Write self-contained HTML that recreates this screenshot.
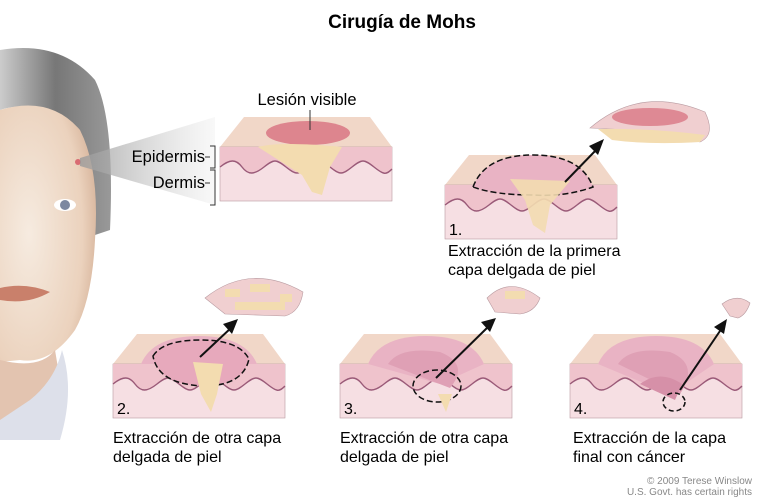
<!DOCTYPE html>
<html><head><meta charset="utf-8"><style>
html,body{margin:0;padding:0;background:#fff;}
svg{display:block;font-family:"Liberation Sans",Arial,sans-serif;}
</style></head><body>
<svg width="770" height="504" viewBox="0 0 770 504" xmlns="http://www.w3.org/2000/svg">
<defs>
<linearGradient id="cone" x1="0" x2="1"><stop offset="0" stop-color="#999"/><stop offset="1" stop-color="#eee" stop-opacity="0.5"/></linearGradient>
<radialGradient id="skin" cx="0.3" cy="0.5" r="0.8"><stop offset="0" stop-color="#f6ebe0"/><stop offset="0.7" stop-color="#ebd2bd"/><stop offset="1" stop-color="#d0aa90"/></radialGradient>
<linearGradient id="hair" x1="0" x2="1"><stop offset="0" stop-color="#ccc"/><stop offset="0.5" stop-color="#777"/><stop offset="1" stop-color="#999"/></linearGradient>
<g id="blk">
<polygon points="0,0 24,-30 150,-30 172,0" fill="#f1d7c8"/>
<rect x="0" y="0" width="172" height="54" fill="#f6dfe3" stroke="#b89aa0" stroke-width="0.6"/>
<path d="M0,20 C10,12 16,12 22,20 S34,28 44,20 S56,12 66,20 S78,28 88,20 S100,12 110,20 S122,28 132,20 S144,12 154,20 S166,28 172,22 L172,0 L0,0 Z" fill="#efc3cc"/>
<path d="M0,20 C10,12 16,12 22,20 S34,28 44,20 S56,12 66,20 S78,28 88,20 S100,12 110,20 S122,28 132,20 S144,12 154,20 S166,28 172,22" fill="none" stroke="#9a5a78" stroke-width="1.4"/>
</g>
</defs>
<text x="402" y="28" font-size="19" font-weight="bold" text-anchor="middle">Cirugía de Mohs</text>

<!-- face -->
<path d="M0,50 Q60,40 95,80 Q115,120 110,230 L95,235 Q90,170 60,120 Q30,100 0,110 Z" fill="url(#hair)"/>
<path d="M0,110 Q50,95 80,130 Q100,170 95,240 Q92,300 75,330 Q50,365 20,360 L0,362 Z" fill="url(#skin)"/>
<path d="M0,360 Q40,370 55,350 L60,380 Q40,420 0,430 Z" fill="#e3c4b0"/>
<path d="M30,400 Q55,380 62,350 Q75,390 60,440 L0,440 L0,420 Z" fill="#dde0ea"/>
<ellipse cx="65" cy="205" rx="11" ry="6" fill="#fff"/><circle cx="65" cy="205" r="5" fill="#7c88a0"/>
<path d="M0,288 Q25,282 50,292 Q28,305 0,300 Z" fill="#c9806b"/>
<circle cx="78" cy="162" r="3" fill="#d96b72"/>
<polygon points="80,158 215,117 215,205 80,166" fill="url(#cone)" opacity="0.8"/>

<!-- main block -->
<g transform="translate(220,147)">
<use href="#blk"/>
<ellipse cx="88" cy="-14" rx="42" ry="12" fill="#d97784" opacity="0.85"/>
<path d="M38,0 Q60,-6 122,0 L110,20 L102,48 L92,45 L82,28 Z" fill="#f3dcb0"/>
</g>
<text x="307" y="105" font-size="16.5" text-anchor="middle">Lesión visible</text>
<line x1="310" y1="110" x2="310" y2="130" stroke="#333"/>
<text x="205" y="162" font-size="16.5" text-anchor="end">Epidermis</text>
<text x="205" y="188" font-size="16.5" text-anchor="end">Dermis</text>
<path d="M205,157 h5 M210,146 h5 v22 h-5 M205,183 h5 M210,170 h5 v35 h-5" stroke="#333" fill="none"/>

<!-- block 1 -->
<g transform="translate(445,185)">
<use href="#blk"/>
<path d="M28,2 Q40,-30 88,-30 Q136,-30 148,2 Q120,12 88,10 Q50,10 28,2 Z" fill="#e9b3c4"/>
<path d="M28,2 Q40,-30 88,-30 Q136,-30 148,2 Q120,12 88,10 Q50,10 28,2 Z" fill="none" stroke="#111" stroke-dasharray="6,3" stroke-width="1.5"/>
<path d="M65,-6 L125,-4 L105,20 L100,48 L88,40 L80,15 Z" fill="#f3dcb0" opacity="0.9"/>
<text x="4" y="50" font-size="16">1.</text>
</g>
<line x1="565" y1="182" x2="598" y2="148" stroke="#111" stroke-width="2"/><polygon points="604,139 589,146 598,155" fill="#111"/>
<path d="M590,128 Q640,85 705,112 Q716,135 700,142 Q650,130 590,128 Z" fill="#f0cfd0" stroke="#b89aa0" stroke-width="0.6"/>
<ellipse cx="650" cy="117" rx="38" ry="9" fill="#d97784" opacity="0.8"/>
<path d="M598,129 Q650,128 705,135 L700,142 Q650,145 612,140 Z" fill="#f3dcb0"/>
<text x="448" y="256" font-size="16">Extracción de la primera</text>
<text x="448" y="275" font-size="16">capa delgada de piel</text>

<!-- block 2 -->
<g transform="translate(113,364)">
<use href="#blk"/>
<path d="M28,0 Q40,-28 86,-28 Q132,-28 144,0 Z" fill="#e9b3c4"/>
<path d="M40,-8 Q50,-24 88,-24 Q126,-24 136,-5 Q130,22 90,22 Q45,20 40,-8 Z" fill="#e7a9bc"/>
<path d="M40,-8 Q50,-24 88,-24 Q126,-24 136,-5 Q130,22 90,22 Q45,20 40,-8 Z" fill="none" stroke="#111" stroke-dasharray="6,3" stroke-width="1.5"/>
<path d="M80,-2 L110,0 L104,30 L98,48 L88,30 Z" fill="#f3dcb0"/>
<text x="4" y="50" font-size="16">2.</text>
</g>
<line x1="200" y1="357" x2="232" y2="327" stroke="#111" stroke-width="2"/><polygon points="238,319 223,324 232,334" fill="#111"/>
<path d="M205,298 Q250,262 303,292 Q300,312 285,316 L225,314 Z" fill="#f0cfd0" stroke="#b89aa0" stroke-width="0.6"/>
<path d="M225,293 h15 M250,288 h20 M280,298 h12 M235,306 h50" stroke="#f3dcb0" stroke-width="8"/>
<text x="113" y="443" font-size="16">Extracción de otra capa</text>
<text x="113" y="462" font-size="16">delgada de piel</text>

<!-- block 3 -->
<g transform="translate(340,364)">
<use href="#blk"/>
<path d="M28,0 Q40,-28 86,-28 Q132,-28 144,0 L100,20 Z" fill="#e9b3c4"/>
<path d="M48,0 Q60,-18 100,-12 Q130,0 110,24 Z" fill="#dfa0b5"/>
<ellipse cx="97" cy="22" rx="24" ry="16" fill="none" stroke="#111" stroke-dasharray="6,3" stroke-width="1.5"/>
<path d="M98,30 L112,30 L106,48 Z" fill="#f3dcb0"/>
<text x="4" y="50" font-size="16">3.</text>
</g>
<line x1="436" y1="378" x2="490" y2="325" stroke="#111" stroke-width="2"/><polygon points="496,318 481,322 490,332" fill="#111"/>
<path d="M487,298 Q510,275 540,298 Q535,312 520,314 L495,312 Z" fill="#f0cfd0" stroke="#b89aa0" stroke-width="0.6"/>
<path d="M505,295 h20" stroke="#f3dcb0" stroke-width="8"/>
<text x="340" y="443" font-size="16">Extracción de otra capa</text>
<text x="340" y="462" font-size="16">delgada de piel</text>

<!-- block 4 -->
<g transform="translate(570,364)">
<use href="#blk"/>
<path d="M28,0 Q40,-28 86,-28 Q132,-28 144,0 L100,30 Z" fill="#e9b3c4"/>
<path d="M48,0 Q60,-18 100,-12 Q130,0 110,30 Z" fill="#dfa0b5"/>
<path d="M70,20 Q90,5 112,20 L105,36 Z" fill="#d690a8"/>
<ellipse cx="104" cy="38" rx="11" ry="9" fill="none" stroke="#111" stroke-dasharray="5,3" stroke-width="1.5"/>
<text x="4" y="50" font-size="16">4.</text>
</g>
<line x1="680" y1="390" x2="722" y2="328" stroke="#111" stroke-width="2"/><polygon points="727,319 714,327 724,334" fill="#111"/>
<path d="M722,304 Q737,293 750,303 Q746,315 738,318 L730,316 Z" fill="#f0cfd0" stroke="#b89aa0" stroke-width="0.6"/>
<text x="573" y="443" font-size="16">Extracción de la capa</text>
<text x="573" y="462" font-size="16">final con cáncer</text>

<text x="752" y="484" font-size="10" fill="#888" text-anchor="end">© 2009 Terese Winslow</text>
<text x="752" y="495" font-size="10" fill="#888" text-anchor="end">U.S. Govt. has certain rights</text>
</svg>
</body></html>
